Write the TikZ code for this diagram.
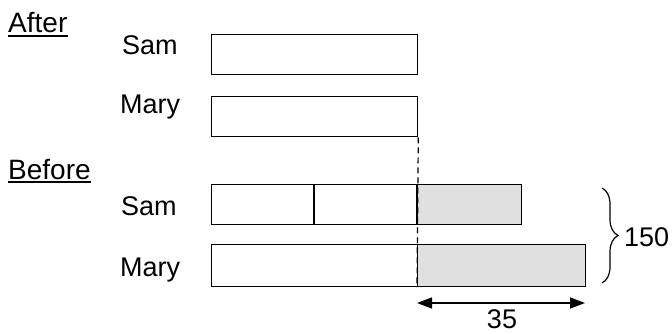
\documentclass[tikz,border=0pt]{standalone}
\usepackage{fontspec}
\setmainfont{Liberation Sans}
\usetikzlibrary{arrows.meta,decorations.pathreplacing,calc}
\definecolor{shade}{RGB}{224,224,224}
\tikzset{
  lbl/.style={inner sep=0pt, anchor=base west, font=\fontsize{27}{31}\selectfont},
  head/.style={lbl, font=\fontsize{28}{32}\selectfont},
  bar/.style={draw, line width=1.3pt, inner sep=0pt, anchor=north west},
  part/.style={line width=2pt},
  uline/.style={line width=2pt},
  guide/.style={line width=1.2pt, dash pattern=on 6pt off 4pt},
  dim/.style={line width=1.6pt, {Triangle[length=15pt,width=11pt]}-{Triangle[length=15pt,width=11pt]}},
  bracestyle/.style={line width=1.2pt, decorate, decoration={brace, amplitude=16pt}}
}
\begin{document}
\begin{tikzpicture}[x=1pt, y=-1pt]
  \useasboundingbox (0,0) rectangle (672,334);

  % headings
  \node[head] (after) at (8,33) {After};
  \node[head] (before) at (8,179.5) {Before};
  \draw[uline] ($(after.base west)+(0,2.8)$) -- ($(after.base east)+(0,2.8)$);
  \draw[uline] ($(before.base west)+(0,2.8)$) -- ($(before.base east)+(0,2.8)$);

  % row labels
  \node[lbl] (lsamA) at (122,55) {Sam};
  \node[lbl] (lmaryA) at (120,114) {Mary};
  \node[lbl] (lsamB) at (121,215) {Sam};
  \node[lbl] (lmaryB) at (120,276) {Mary};

  % after bars
  \node[bar, minimum width=206pt, minimum height=40pt] (samA) at (211,34) {};
  \node[bar, minimum width=206pt, minimum height=40pt] (maryA) at (211,96) {};

  % before bars: shaded extra parts first
  \node[bar, fill=shade, minimum width=104pt, minimum height=40pt] (samX) at (417,184) {};
  \node[bar, fill=shade, minimum width=168pt, minimum height=42pt] (maryX) at (417,244) {};
  \node[bar, minimum width=206pt, minimum height=40pt] (samB) at (211,184) {};
  \node[bar, minimum width=206pt, minimum height=42pt] (maryB) at (211,244) {};

  % units inside Sam's bar
  \coordinate (d1t) at (314,184);
  \coordinate (d1b) at (314,224);
  \draw[part] (d1t) -- (d1b);
  \draw[part] (samX.north west) -- (samX.south west);

  % guide from the after bars down to Mary's bar
  \draw[guide] (maryA.south east) -- (maryX.south west);

  % difference of 35
  \coordinate (aL) at (417,303);
  \coordinate (aR) at (585,303);
  \draw[dim] (aL) -- (aR);
  \node[lbl, anchor=base] (n35) at (502,328) {35};

  % total of 150
  \coordinate (bT) at (602,188);
  \coordinate (bB) at (602,283);
  \draw[bracestyle] (bT) -- (bB);
  \node[lbl] (n150) at (624,246) {150};
\end{tikzpicture}
\end{document}
